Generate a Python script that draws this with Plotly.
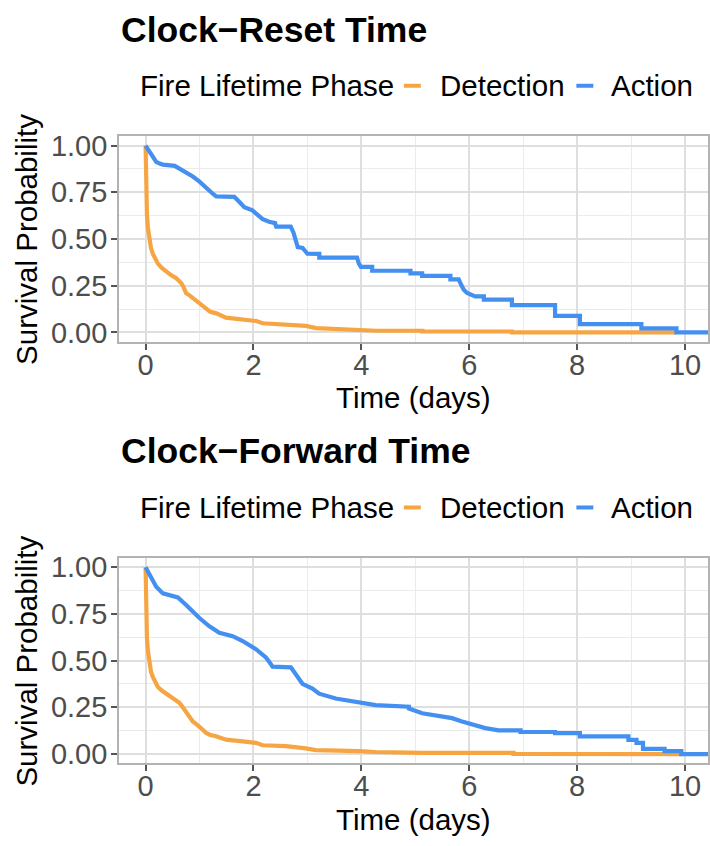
import plotly.graph_objects as go

# ---- Kaplan-Meier survival estimates (time in days, survival probability) ----
# Clock-Reset Time
reset_detection_t = [0, 0.004, 0.012, 0.025, 0.043, 0.06, 0.074, 0.1, 0.136, 0.18, 0.228, 0.3, 0.382,
                     0.47, 0.567, 0.62, 0.66, 0.7, 0.75, 0.82, 0.875, 0.94, 1.0, 1.06, 1.12, 1.2, 1.31,
                     1.4, 1.49, 1.65, 1.8, 2.05, 2.17, 2.6, 2.97, 3.16, 3.95, 4.27, 5.13, 5.13, 6.79,
                     6.79, 9.84]
reset_detection_s = [1.0, 0.88, 0.74, 0.63, 0.56, 0.515, 0.49, 0.45, 0.42, 0.39, 0.368, 0.345, 0.324,
                     0.307, 0.29, 0.278, 0.264, 0.245, 0.21, 0.197, 0.184, 0.17, 0.158, 0.14, 0.123,
                     0.11, 0.102, 0.09, 0.079, 0.074, 0.07, 0.061, 0.049, 0.044, 0.035, 0.023, 0.014,
                     0.009, 0.009, 0.005, 0.005, 0.0, 0.0]

reset_action_t = [0, 0.074, 0.135, 0.197, 0.26, 0.32, 0.54, 0.6, 0.75, 0.875, 1.0, 1.12, 1.245, 1.31,
                  1.645, 1.74, 1.83, 1.98, 2.08, 2.17, 2.29, 2.4, 2.42, 2.69, 2.74, 2.785, 2.82, 2.91,
                  3.0, 3.22, 3.22, 3.92, 3.95, 3.99, 4.2, 4.2, 4.91, 4.91, 5.126, 5.126, 5.65, 5.65,
                  5.804, 5.85, 5.897, 5.96, 6.11, 6.27, 6.27, 6.79, 6.79, 7.59, 7.59, 8.05, 8.05,
                  9.19, 9.19, 9.84, 9.84, 10.5]
reset_action_s = [1.0, 0.965, 0.934, 0.912, 0.903, 0.898, 0.891, 0.881, 0.856, 0.834, 0.807, 0.772,
                  0.742, 0.728, 0.725, 0.698, 0.67, 0.653, 0.628, 0.606, 0.592, 0.585, 0.566, 0.566,
                  0.535, 0.491, 0.456, 0.452, 0.421, 0.42, 0.40, 0.40, 0.37, 0.351, 0.351, 0.33, 0.33,
                  0.316, 0.316, 0.302, 0.302, 0.284, 0.284, 0.255, 0.228, 0.211, 0.193, 0.193, 0.175,
                  0.175, 0.146, 0.146, 0.088, 0.088, 0.044, 0.044, 0.022, 0.022, 0.0, 0.0]

# Clock-Forward Time
forward_detection_t = [0, 0.004, 0.012, 0.025, 0.043, 0.06, 0.074, 0.1, 0.136, 0.18, 0.228, 0.3, 0.382,
                       0.47, 0.567, 0.62, 0.66, 0.7, 0.752, 0.82, 0.875, 0.94, 0.998, 1.06, 1.122, 1.2,
                       1.306, 1.4, 1.491, 1.8, 2.045, 2.168, 2.6, 2.97, 3.155, 3.956, 4.264, 4.88, 5.13,
                       6.82, 6.82, 9.94]
forward_detection_s = [1.0, 0.87, 0.727, 0.62, 0.552, 0.51, 0.482, 0.44, 0.412, 0.38, 0.359, 0.34, 0.324,
                       0.305, 0.288, 0.276, 0.262, 0.245, 0.218, 0.19, 0.174, 0.16, 0.148, 0.13, 0.113,
                       0.102, 0.095, 0.085, 0.077, 0.068, 0.06, 0.047, 0.042, 0.03, 0.021, 0.016, 0.011,
                       0.008, 0.006, 0.006, 0.001, 0.0]

forward_action_t = [0, 0.074, 0.197, 0.32, 0.444, 0.598, 0.752, 0.998, 1.183, 1.368, 1.614, 1.799, 2.045,
                    2.23, 2.3, 2.354, 2.693, 2.785, 2.908, 3.093, 3.216, 3.524, 3.925, 4.264, 4.88, 4.88,
                    5.126, 5.373, 5.68, 5.866, 6.05, 6.297, 6.543, 6.95, 6.95, 7.59, 7.59, 8.05, 8.05,
                    8.95, 8.95, 9.1, 9.1, 9.22, 9.22, 9.62, 9.62, 9.93, 9.93, 10.5]
forward_action_s = [1.0, 0.956, 0.895, 0.86, 0.851, 0.838, 0.798, 0.728, 0.684, 0.649, 0.631, 0.605, 0.561,
                    0.517, 0.49, 0.468, 0.464, 0.429, 0.376, 0.35, 0.323, 0.297, 0.279, 0.262, 0.253,
                    0.244, 0.218, 0.206, 0.192, 0.174, 0.157, 0.139, 0.127, 0.127, 0.118, 0.118, 0.112,
                    0.112, 0.095, 0.095, 0.076, 0.076, 0.06, 0.06, 0.028, 0.028, 0.016, 0.016, 0.0, 0.0]

panel_titles = ["Clock\u2212Reset Time", "Clock\u2212Forward Time"]
phase_names = ["Detection", "Action"]
legend_title = "Fire Lifetime Phase"
x_label = "Time (days)"
y_label = "Survival Probability"

phase_colors = {"Detection": "#F6A542", "Action": "#4490F1"}

W, H = 710, 846
FONT = "Liberation Sans, Arial, Helvetica, sans-serif"


def fx(px):
    return px / W


def fy(py):
    return 1 - py / H


fig = go.Figure()

panels = [
    ("x", "y", reset_detection_t, reset_detection_s, reset_action_t, reset_action_s),
    ("x2", "y2", forward_detection_t, forward_detection_s, forward_action_t, forward_action_s),
]
for xa, ya, dt, ds, at, as_ in panels:
    fig.add_trace(go.Scatter(x=dt, y=ds, mode="lines", name=phase_names[0], xaxis=xa, yaxis=ya,
                             line=dict(color=phase_colors["Detection"], width=4.2),
                             showlegend=False))
    fig.add_trace(go.Scatter(x=at, y=as_, mode="lines", name=phase_names[1], xaxis=xa, yaxis=ya,
                             line=dict(color=phase_colors["Action"], width=4.2),
                             showlegend=False))

# panel geometry (pixels)
plot_left = 119.5
panel_tops = [132.2, 560.5]
panel_bottoms = [341.0, 769.2]

grid_major = "#DEDEDE"
grid_minor = "#EBEBEB"
border = "#B3B3B3"
tick_font = dict(family=FONT, size=29, color="#4D4D4D")

common_x = dict(range=[-0.49, 10.425], dtick=2, tick0=0, showgrid=True, gridcolor=grid_major,
                gridwidth=1.5, zeroline=False, showline=True, mirror=True, linecolor=border,
                linewidth=2, ticks="outside", ticklen=6, tickwidth=1.5, tickcolor="#555555",
                tickfont=tick_font, ticklabelstandoff=-10,
                minor=dict(dtick=1, tick0=0, showgrid=True, gridcolor=grid_minor, gridwidth=1))
common_y = dict(range=[-0.05, 1.05], dtick=0.25, tick0=0, tickformat=".2f", showgrid=True,
                gridcolor=grid_major, gridwidth=1.5, zeroline=False, showline=True, mirror=True,
                linecolor=border, linewidth=2, ticks="outside", ticklen=6, tickwidth=1.5,
                tickcolor="#555555", tickfont=tick_font, ticklabelstandoff=-2,
                minor=dict(dtick=0.125, tick0=0, showgrid=True, gridcolor=grid_minor, gridwidth=1))

fig.update_layout(
    xaxis=dict(domain=[fx(plot_left), 1], anchor="y", **common_x),
    yaxis=dict(domain=[fy(panel_bottoms[0]), fy(panel_tops[0])], anchor="x", **common_y),
    xaxis2=dict(domain=[fx(plot_left), 1], anchor="y2", **common_x),
    yaxis2=dict(domain=[fy(panel_bottoms[1]), fy(panel_tops[1])], anchor="x2", **common_y),
)

annotations = []
shapes = []
offsets = [0, 428.3]
for i, off in enumerate(offsets):
    # panel title
    annotations.append(dict(text="<b>" + panel_titles[i] + "</b>", x=fx(119), y=fy(24 + off),
                            xref="paper", yref="paper", xanchor="left", yanchor="middle",
                            showarrow=False, font=dict(family=FONT, size=35.5, color="black")))
    # legend row
    ly = fy(81 + off)
    annotations.append(dict(text=legend_title, x=fx(138), y=ly, xref="paper", yref="paper",
                            xanchor="left", yanchor="middle", showarrow=False,
                            font=dict(family=FONT, size=29.5, color="black")))
    for name, x0, x1, tx in [("Detection", 405, 422, 439), ("Action", 578, 595, 611)]:
        shapes.append(dict(type="line", xref="paper", yref="paper", x0=fx(x0), x1=fx(x1),
                           y0=ly, y1=ly, line=dict(color=phase_colors[name], width=4)))
        annotations.append(dict(text=name, x=fx(tx), y=ly, xref="paper", yref="paper",
                                xanchor="left", yanchor="middle", showarrow=False,
                                font=dict(family=FONT, size=29.5, color="black")))
    # axis titles
    annotations.append(dict(text=x_label, x=fx(415), y=fy(398 + off), xref="paper", yref="paper",
                            xanchor="center", yanchor="middle", showarrow=False,
                            font=dict(family=FONT, size=29.5, color="black")))
    annotations.append(dict(text=y_label, x=fx(27), y=fy((panel_tops[i] + panel_bottoms[i]) / 2),
                            xref="paper", yref="paper", xanchor="center", yanchor="middle",
                            textangle=-90, showarrow=False,
                            font=dict(family=FONT, size=29.5, color="black")))

fig.update_layout(
    width=W, height=H,
    margin=dict(l=0, r=0, t=0, b=0),
    paper_bgcolor="white", plot_bgcolor="white",
    annotations=annotations, shapes=shapes,
    showlegend=False,
)

fig.write_html("out.html")
